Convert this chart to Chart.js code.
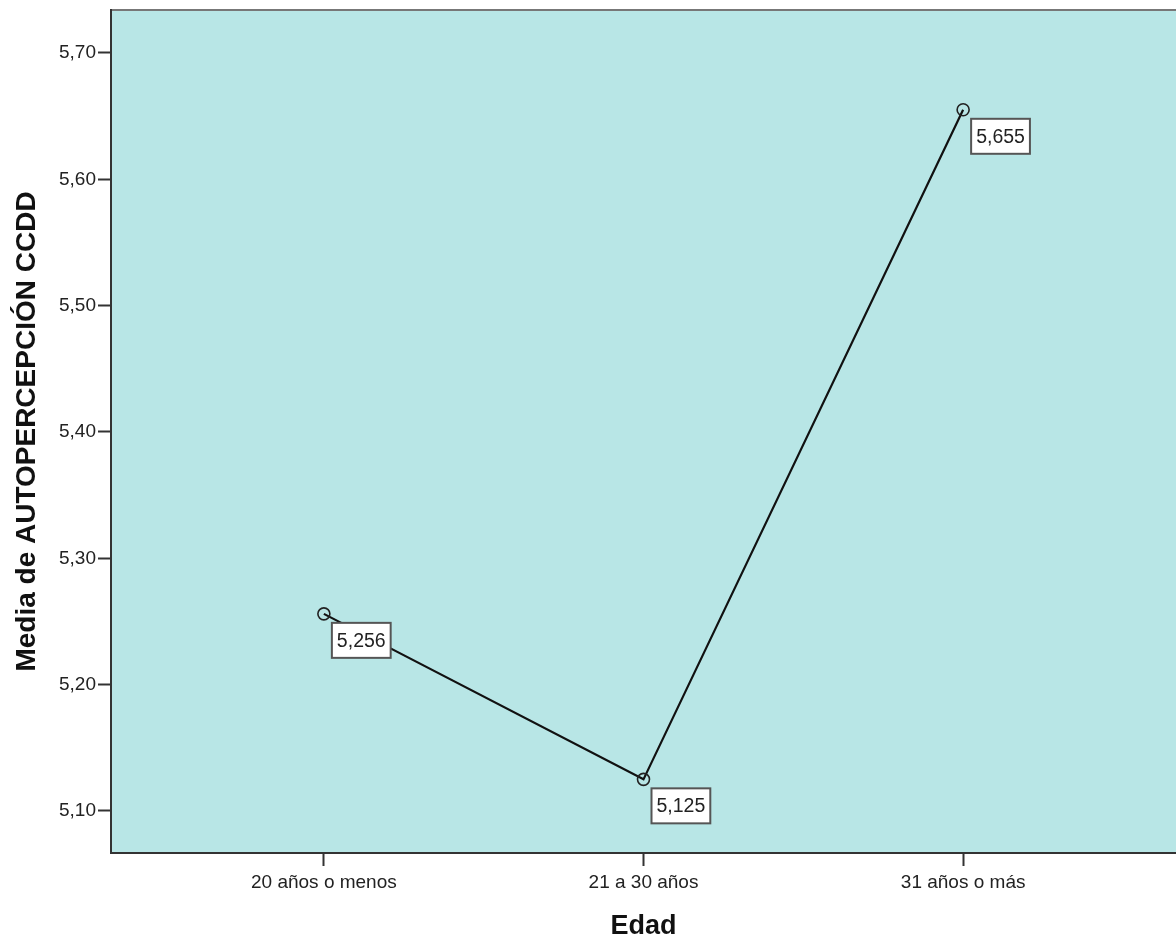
<!DOCTYPE html>
<html>
<head>
<meta charset="utf-8">
<script src="https://cdn.jsdelivr.net/npm/chart.js@4.4.0/dist/chart.umd.min.js"></script>
<style>
  html, body { margin:0; padding:0; background:#fff; }
  #wrap { width:1176px; height:938px; }
</style>
</head>
<body>
<div id="wrap"><canvas id="c" width="1176" height="938"></canvas></div>
<script>
const CATEGORIES = ['20 años o menos', '21 a 30 años', '31 años o más'];
const MEANS = [5.256, 5.125, 5.655];
const Y_TICKS = [5.10, 5.20, 5.30, 5.40, 5.50, 5.60, 5.70];
const X_TITLE = 'Edad';
const Y_TITLE = 'Media de AUTOPERCEPCIÓN CCDD';
const fmt = (v, d) => v.toFixed(d).replace('.', ',');

const FONT = '"Liberation Sans", Arial, sans-serif';

const plotBg = {
  id: 'plotBg',
  beforeDraw(chart){
    const {ctx, chartArea:a} = chart;
    ctx.save();
    ctx.fillStyle = '#b8e6e6';
    ctx.fillRect(a.left, a.top, a.right - a.left, a.bottom - a.top);
    ctx.strokeStyle = '#777';
    ctx.lineWidth = 2;
    ctx.beginPath(); ctx.moveTo(a.left, a.top); ctx.lineTo(a.right, a.top); ctx.stroke();
    ctx.restore();
  }
};

const valueBoxes = {
  id: 'valueBoxes',
  afterDatasetsDraw(chart){
    const {ctx} = chart;
    const meta = chart.getDatasetMeta(0);
    ctx.save();
    ctx.font = '19.5px ' + FONT;
    ctx.textBaseline = 'middle';
    meta.data.forEach((pt, i) => {
      const txt = fmt(MEANS[i], 3);
      const w = ctx.measureText(txt).width + 10, h = 35;
      const x = pt.x + 8, y = pt.y + 9;
      ctx.fillStyle = '#fff';
      ctx.fillRect(x, y, w, h);
      ctx.strokeStyle = '#555';
      ctx.lineWidth = 2;
      ctx.strokeRect(x, y, w, h);
      ctx.fillStyle = '#222';
      ctx.fillText(txt, x + 5, y + h/2 + 1);
    });
    ctx.restore();
  }
};

new Chart(document.getElementById('c'), {
  type: 'line',
  data: {
    datasets: [{
      data: MEANS.map((v, i) => ({x: i, y: v})),
      borderColor: '#111',
      borderWidth: 2.2,
      pointRadius: 6,
      pointBorderWidth: 1.6,
      pointBorderColor: '#222',
      pointBackgroundColor: 'rgba(0,0,0,0)',
      tension: 0
    }]
  },
  options: {
    responsive: false,
    animation: false,
    layout: { autoPadding: false, padding: { top: 10, right: 0, left: 0, bottom: 0 } },
    plugins: { legend: { display: false }, tooltip: { enabled: false } },
    scales: {
      x: {
        type: 'linear',
        min: -0.666, max: 2.666,
        afterBuildTicks: ax => { ax.ticks = CATEGORIES.map((c, i) => ({value: i})); },
        afterFit: ax => { ax.height = 85; },
        ticks: {
          callback: v => CATEGORIES[v],
          color: '#222', font: { family: FONT, size: 19 }, padding: 5, maxRotation: 0
        },
        grid: { drawOnChartArea: false, tickLength: 13, tickColor: '#333', tickWidth: 2 },
        border: { color: '#333', width: 2 },
        title: { display: true, text: X_TITLE, color: '#111',
                 font: { family: FONT, size: 27, weight: 'bold' }, padding: { top: 18, bottom: -5 } }
      },
      y: {
        min: 5.0667, max: 5.734,
        afterBuildTicks: ax => { ax.ticks = Y_TICKS.map(v => ({value: v})); },
        afterFit: ax => { ax.width = 111; ax.paddingTop = 0; ax.paddingBottom = 0; },
        ticks: {
          callback: v => fmt(v, 2),
          color: '#222', font: { family: FONT, size: 19 }, padding: 2
        },
        grid: { drawOnChartArea: false, tickLength: 13, tickColor: '#333', tickWidth: 2 },
        border: { color: '#333', width: 2 },
        title: { display: true, text: Y_TITLE, color: '#111',
                 font: { family: FONT, size: 28, weight: 'bold' }, padding: { top: 10, bottom: 4 } }
      }
    }
  },
  plugins: [plotBg, valueBoxes]
});
</script>
</body>
</html>
